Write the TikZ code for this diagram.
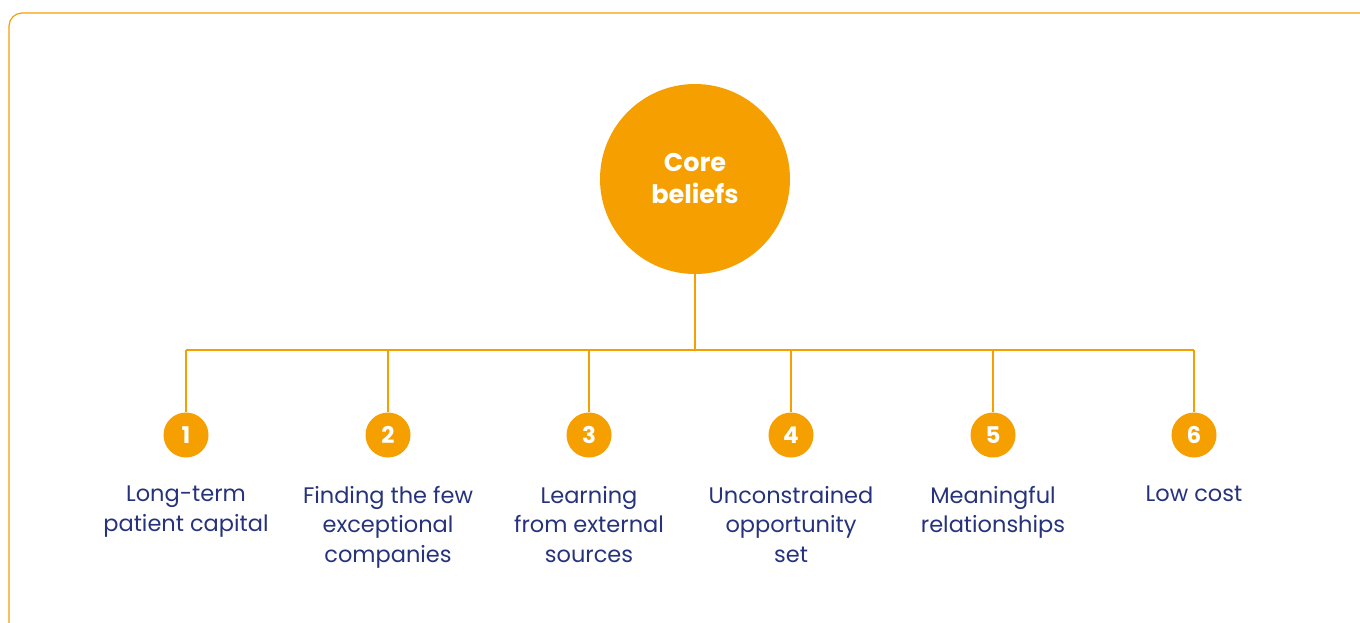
\documentclass[tikz,border=0pt]{standalone}
\usepackage{fontspec}
\setmainfont{Poppins}
\definecolor{coreorange}{HTML}{F5A000}
\definecolor{textblue}{HTML}{26337C}

\begin{document}
\begin{tikzpicture}[x=1pt,y=-1pt,
		core/.style = {fill=coreorange,circle,minimum size=190pt,inner sep=0pt,text=white,align=center,font=\fontsize{25.5}{32}\selectfont\bfseries},
		num/.style = {fill=coreorange,circle,minimum size=45pt,inner sep=0pt,text=white,font=\fontsize{23}{26}\selectfont\bfseries},
		label/.style = {anchor=north,align=center,inner sep=0pt,text=textblue,font=\fontsize{22.5}{29.5}\selectfont},
		link/.style = {draw=coreorange,line width=1.2pt}]
		\useasboundingbox (0,0) rectangle (1360,622);
		\draw[draw=coreorange,line width=1.2pt,rounded corners=13pt] (9,13) rectangle (1373,636);
		
		\node[core] (core) at (695,179) {Core\\beliefs};
		\coordinate (hub) at (695,350);
		\coordinate (t1) at (186,350);
		\coordinate (t2) at (388,350);
		\coordinate (t3) at (589,350);
		\coordinate (t4) at (791,350);
		\coordinate (t5) at (993,350);
		\coordinate (t6) at (1194,350);
		
		\node[num] (n1) at (186,435) {1};
		\node[num] (n2) at (388,435) {2};
		\node[num] (n3) at (589,435) {3};
		\node[num] (n4) at (791,435) {4};
		\node[num] (n5) at (993,435) {5};
		\node[num] (n6) at (1194,435) {6};
		
		\node[label] (l1) at (186,486) {Long-term\\patient capital};
		\node[label] (l2) at (388,486) {Finding the few\\exceptional\\companies};
		\node[label] (l3) at (589,486) {Learning\\from external\\sources};
		\node[label] (l4) at (791,486) {Unconstrained\\opportunity\\set};
		\node[label] (l5) at (993,486) {Meaningful\\relationships};
		\node[label] (l6) at (1194,486) {Low cost};
		
		\draw[link] (core) -- (hub);
		\draw[link] (t1) -- (t6);
		\draw[link] (t1) -- (n1);
		\draw[link] (t2) -- (n2);
		\draw[link] (t3) -- (n3);
		\draw[link] (t4) -- (n4);
		\draw[link] (t5) -- (n5);
		\draw[link] (t6) -- (n6);
	\end{tikzpicture}
\end{document}
